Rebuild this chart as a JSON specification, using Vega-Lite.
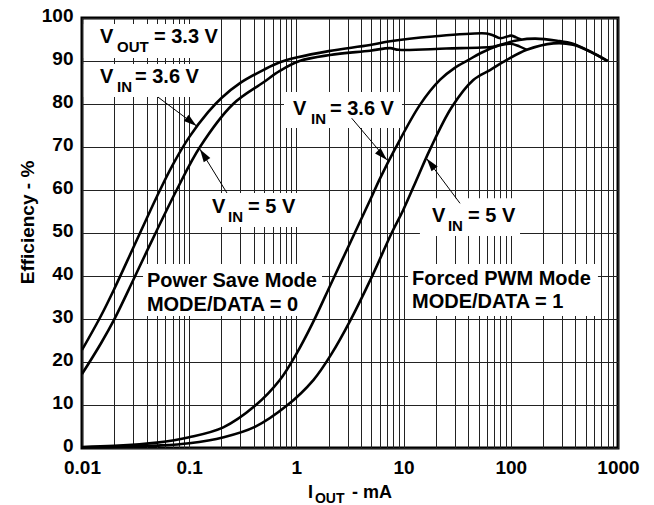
{
  "$schema": "https://vega.github.io/schema/vega-lite/v6.json",
  "width": 536,
  "height": 430,
  "autosize": {"type": "none"},
  "padding": {"left": 82, "top": 18, "right": 36, "bottom": 57},
  "background": "white",
  "config": {
    "view": {"stroke": "black", "strokeWidth": 3},
    "font": "Liberation Sans"
  },
  "datasets": {
    "curves": [
      {"series": "PS 3.6", "x": 0.01, "y": 22.8},
      {"series": "PS 3.6", "x": 0.015, "y": 30.7},
      {"series": "PS 3.6", "x": 0.02, "y": 37.0},
      {"series": "PS 3.6", "x": 0.03, "y": 46.5},
      {"series": "PS 3.6", "x": 0.05, "y": 58.5},
      {"series": "PS 3.6", "x": 0.07, "y": 65.8},
      {"series": "PS 3.6", "x": 0.1, "y": 72.3},
      {"series": "PS 3.6", "x": 0.15, "y": 78.1},
      {"series": "PS 3.6", "x": 0.2, "y": 81.4},
      {"series": "PS 3.6", "x": 0.3, "y": 84.9},
      {"series": "PS 3.6", "x": 0.5, "y": 88.0},
      {"series": "PS 3.6", "x": 0.7, "y": 89.7},
      {"series": "PS 3.6", "x": 1.0, "y": 90.8},
      {"series": "PS 3.6", "x": 2.0, "y": 92.3},
      {"series": "PS 3.6", "x": 4.86, "y": 93.7},
      {"series": "PS 3.6", "x": 7.5, "y": 94.6},
      {"series": "PS 3.6", "x": 18.8, "y": 95.7},
      {"series": "PS 3.6", "x": 59, "y": 96.4},
      {"series": "PS 3.6", "x": 68, "y": 96.0},
      {"series": "PS 3.6", "x": 80, "y": 95.3},
      {"series": "PS 3.6", "x": 100, "y": 95.9},
      {"series": "PS 3.6", "x": 112, "y": 95.5},
      {"series": "PS 3.6", "x": 125, "y": 95.0},
      {"series": "PS 5", "x": 0.01, "y": 17.2},
      {"series": "PS 5", "x": 0.015, "y": 24.3},
      {"series": "PS 5", "x": 0.02, "y": 29.9},
      {"series": "PS 5", "x": 0.03, "y": 39.0},
      {"series": "PS 5", "x": 0.04, "y": 45.6},
      {"series": "PS 5", "x": 0.0764, "y": 60},
      {"series": "PS 5", "x": 0.126, "y": 70},
      {"series": "PS 5", "x": 0.257, "y": 80},
      {"series": "PS 5", "x": 0.49, "y": 85},
      {"series": "PS 5", "x": 0.7, "y": 87.7},
      {"series": "PS 5", "x": 1.07, "y": 90},
      {"series": "PS 5", "x": 2.05, "y": 91.4},
      {"series": "PS 5", "x": 4.86, "y": 92.4},
      {"series": "PS 5", "x": 7.5, "y": 93.0},
      {"series": "PS 5", "x": 9, "y": 92.6},
      {"series": "PS 5", "x": 25, "y": 92.9},
      {"series": "PS 5", "x": 68, "y": 93.3},
      {"series": "PS 5", "x": 80, "y": 93.7},
      {"series": "PS 5", "x": 100, "y": 94.0},
      {"series": "PS 5", "x": 120, "y": 93.4},
      {"series": "PS 5", "x": 141, "y": 92.6},
      {"series": "PWM 3.6", "x": 0.01, "y": 0.25},
      {"series": "PWM 3.6", "x": 0.02, "y": 0.5},
      {"series": "PWM 3.6", "x": 0.05, "y": 1.25},
      {"series": "PWM 3.6", "x": 0.1, "y": 2.5},
      {"series": "PWM 3.6", "x": 0.208, "y": 4.8},
      {"series": "PWM 3.6", "x": 0.411, "y": 9.8},
      {"series": "PWM 3.6", "x": 0.7, "y": 15.8},
      {"series": "PWM 3.6", "x": 1.0, "y": 21.9},
      {"series": "PWM 3.6", "x": 1.42, "y": 29.1},
      {"series": "PWM 3.6", "x": 2.13, "y": 38.5},
      {"series": "PWM 3.6", "x": 3.52, "y": 50.1},
      {"series": "PWM 3.6", "x": 4.86, "y": 57.6},
      {"series": "PWM 3.6", "x": 6.0, "y": 62.6},
      {"series": "PWM 3.6", "x": 8.3, "y": 69.5},
      {"series": "PWM 3.6", "x": 14.2, "y": 79.8},
      {"series": "PWM 3.6", "x": 21.8, "y": 85.6},
      {"series": "PWM 3.6", "x": 30, "y": 88.4},
      {"series": "PWM 3.6", "x": 40, "y": 90.2},
      {"series": "PWM 3.6", "x": 52, "y": 91.8},
      {"series": "PWM 3.6", "x": 79, "y": 93.7},
      {"series": "PWM 3.6", "x": 120, "y": 94.9},
      {"series": "PWM 3.6", "x": 170, "y": 95.2},
      {"series": "PWM 3.6", "x": 270, "y": 94.7},
      {"series": "PWM 3.6", "x": 380, "y": 94.0},
      {"series": "PWM 3.6", "x": 550, "y": 92.2},
      {"series": "PWM 3.6", "x": 800, "y": 90},
      {"series": "PWM 5", "x": 0.01, "y": 0.11},
      {"series": "PWM 5", "x": 0.02, "y": 0.22},
      {"series": "PWM 5", "x": 0.05, "y": 0.55},
      {"series": "PWM 5", "x": 0.1, "y": 1.1},
      {"series": "PWM 5", "x": 0.21, "y": 2.5},
      {"series": "PWM 5", "x": 0.41, "y": 4.9},
      {"series": "PWM 5", "x": 0.81, "y": 9.8},
      {"series": "PWM 5", "x": 1.44, "y": 15.8},
      {"series": "PWM 5", "x": 2.14, "y": 22},
      {"series": "PWM 5", "x": 3.16, "y": 29.5},
      {"series": "PWM 5", "x": 5.05, "y": 39.8},
      {"series": "PWM 5", "x": 7.74, "y": 50},
      {"series": "PWM 5", "x": 9.9, "y": 55.3},
      {"series": "PWM 5", "x": 13.6, "y": 63.1},
      {"series": "PWM 5", "x": 17.6, "y": 69.4},
      {"series": "PWM 5", "x": 28, "y": 79.2},
      {"series": "PWM 5", "x": 44.7, "y": 85.6},
      {"series": "PWM 5", "x": 64, "y": 87.9},
      {"series": "PWM 5", "x": 91, "y": 90.2},
      {"series": "PWM 5", "x": 141, "y": 92.6},
      {"series": "PWM 5", "x": 250, "y": 94.1},
      {"series": "PWM 5", "x": 380, "y": 93.8},
      {"series": "PWM 5", "x": 550, "y": 92.2},
      {"series": "PWM 5", "x": 800, "y": 90}
    ],
    "boxes": [
      {"x": 0.0104, "x2": 0.1856, "y": 98.6, "y2": 90.7},
      {"x": 0.0104, "x2": 0.1496, "y": 89.3, "y2": 81.6},
      {"x": 0.1466, "x2": 1.081, "y": 59.3, "y2": 51.4},
      {"x": 0.766, "x2": 9.66, "y": 82.8, "y2": 74.4},
      {"x": 14.2, "x2": 121.9, "y": 58.1, "y2": 49.3},
      {"x": 0.0371, "x2": 1.733, "y": 42.8, "y2": 30.7},
      {"x": 11.0, "x2": 650, "y": 42.8, "y2": 30.7}
    ],
    "arrows": [
      {"id": "a1", "x": 0.117, "y": 74.9, "x2": 0.0512, "y2": 81.6},
      {"id": "a2", "x": 0.126, "y": 69.5, "x2": 0.225, "y2": 59.3},
      {"id": "a3", "x": 7.0, "y": 67.0, "x2": 3.28, "y2": 76.7},
      {"id": "a4", "x": 16.4, "y": 67.3, "x2": 33.6, "y2": 56.9}
    ],
    "labels": [
      {"role": "main", "text": "V", "x": 0.01472, "y": 94.19},
      {"role": "sub", "text": "OUT", "x": 0.02121, "y": 92.09},
      {"role": "main", "text": "= 3.3 V", "x": 0.04694, "y": 94.19},
      {"role": "main", "text": "V", "x": 0.01472, "y": 84.88},
      {"role": "sub", "text": "IN", "x": 0.02121, "y": 82.79},
      {"role": "main", "text": "= 3.6 V", "x": 0.0312, "y": 84.88},
      {"role": "main", "text": "V", "x": 0.1633, "y": 54.65},
      {"role": "sub", "text": "IN", "x": 0.2301, "y": 52.56},
      {"role": "main", "text": "= 5 V", "x": 0.354, "y": 54.65},
      {"role": "main", "text": "V", "x": 0.929, "y": 77.44},
      {"role": "sub", "text": "IN", "x": 1.368, "y": 75.35},
      {"role": "main", "text": "= 3.6 V", "x": 2.057, "y": 77.44},
      {"role": "main", "text": "V", "x": 18.4, "y": 52.56},
      {"role": "sub", "text": "IN", "x": 25.9, "y": 50.47},
      {"role": "main", "text": "= 5 V", "x": 39.9, "y": 52.56},
      {"role": "main", "text": "Power Save Mode", "x": 0.0403, "y": 37.44},
      {"role": "main", "text": "MODE/DATA = 0", "x": 0.0403, "y": 31.86},
      {"role": "main", "text": "Forced PWM Mode", "x": 11.97, "y": 37.9},
      {"role": "main", "text": "MODE/DATA = 1", "x": 11.97, "y": 32.6},
      {"role": "title", "text": "I", "x": 1.282, "y": -11.63},
      {"role": "titlesub", "text": "OUT", "x": 1.49, "y": -12.9},
      {"role": "title", "text": "- mA", "x": 3.3, "y": -11.63}
    ]
  },
  "encoding": {
    "x": {
      "field": "x",
      "type": "quantitative",
      "title": null,
      "scale": {"type": "log", "domain": [0.01, 1000], "nice": false},
      "axis": {
        "values": [0.01,0.02,0.03,0.04,0.05,0.06,0.07,0.08,0.09,0.1,0.2,0.3,0.4,0.5,0.6,0.7,0.8,0.9,1,2,3,4,5,6,7,8,9,10,20,30,40,50,60,70,80,90,100,200,300,400,500,600,700,800,900,1000],
        "format": "~g",
        "labelExpr": "indexof(['0.01','0.1','1','10','100','1000'], datum.label) >= 0 ? datum.label : ''",
        "grid": true,
        "gridColor": "#222222",
        "gridWidth": 1,
        "gridOpacity": 1,
        "ticks": false,
        "domain": false,
        "labelFont": "Liberation Sans",
        "labelFontWeight": "bold",
        "labelFontSize": 19,
        "labelColor": "black",
        "labelPadding": 10,
        "labelFlush": false,
        "labelOverlap": false,
        "labelBound": false
      }
    },
    "y": {
      "field": "y",
      "type": "quantitative",
      "scale": {"domain": [0, 100], "nice": false, "zero": false},
      "axis": {
        "values": [0,10,20,30,40,50,60,70,80,90,100],
        "title": "Efficiency - %",
        "titleFont": "Liberation Sans",
        "titleFontWeight": "bold",
        "titleFontSize": 19,
        "titleColor": "black",
        "titleAngle": 270,
        "titleX": -45,
        "titleY": 204,
        "titleAlign": "center",
        "titleBaseline": "bottom",
        "grid": true,
        "gridColor": "#222222",
        "gridWidth": 1,
        "gridOpacity": 1,
        "ticks": false,
        "domain": false,
        "labelFont": "Liberation Sans",
        "labelFontWeight": "bold",
        "labelFontSize": 19,
        "labelColor": "black",
        "labelPadding": 9,
        "labelOffset": -3,
        "labelFlush": false,
        "labelOverlap": false,
        "labelBound": false
      }
    }
  },
  "layer": [
    {
      "data": {"name": "boxes"},
      "mark": {"type": "rect", "fill": "white", "strokeWidth": 0},
      "encoding": {"x2": {"field": "x2"}, "y2": {"field": "y2"}}
    },
    {
      "data": {"name": "curves"},
      "mark": {"type": "line", "color": "black", "strokeWidth": 2.6, "interpolate": "catmull-rom"},
      "encoding": {"detail": {"field": "series", "type": "nominal"}}
    },
    {
      "data": {"name": "arrows"},
      "mark": {"type": "rule", "color": "black", "strokeWidth": 1},
      "encoding": {"x2": {"field": "x2"}, "y2": {"field": "y2"}}
    },
    {
      "data": {"name": "arrows"},
      "transform": [{"filter": "datum.id == 'a1'"}],
      "mark": {"type": "point", "shape": "M0,0 L0.3,1 L-0.3,1 Z", "size": 676, "filled": true, "color": "black", "opacity": 1, "angle": 128}
    },
    {
      "data": {"name": "arrows"},
      "transform": [{"filter": "datum.id == 'a2'"}],
      "mark": {"type": "point", "shape": "M0,0 L0.3,1 L-0.3,1 Z", "size": 676, "filled": true, "color": "black", "opacity": 1, "angle": 327}
    },
    {
      "data": {"name": "arrows"},
      "transform": [{"filter": "datum.id == 'a3'"}],
      "mark": {"type": "point", "shape": "M0,0 L0.3,1 L-0.3,1 Z", "size": 676, "filled": true, "color": "black", "opacity": 1, "angle": 135}
    },
    {
      "data": {"name": "arrows"},
      "transform": [{"filter": "datum.id == 'a4'"}],
      "mark": {"type": "point", "shape": "M0,0 L0.3,1 L-0.3,1 Z", "size": 676, "filled": true, "color": "black", "opacity": 1, "angle": 322}
    },
    {
      "data": {"name": "labels"},
      "transform": [{"filter": "datum.role == 'main'"}],
      "mark": {"type": "text", "font": "Liberation Sans", "fontWeight": "bold", "fontSize": 20, "align": "left", "baseline": "alphabetic", "color": "black"},
      "encoding": {"text": {"field": "text"}}
    },
    {
      "data": {"name": "labels"},
      "transform": [{"filter": "datum.role == 'sub'"}],
      "mark": {"type": "text", "font": "Liberation Sans", "fontWeight": "bold", "fontSize": 15, "align": "left", "baseline": "alphabetic", "color": "black"},
      "encoding": {"text": {"field": "text"}}
    },
    {
      "data": {"name": "labels"},
      "transform": [{"filter": "datum.role == 'title'"}],
      "mark": {"type": "text", "font": "Liberation Sans", "fontWeight": "bold", "fontSize": 18, "align": "left", "baseline": "alphabetic", "color": "black"},
      "encoding": {"text": {"field": "text"}}
    },
    {
      "data": {"name": "labels"},
      "transform": [{"filter": "datum.role == 'titlesub'"}],
      "mark": {"type": "text", "font": "Liberation Sans", "fontWeight": "bold", "fontSize": 14, "align": "left", "baseline": "alphabetic", "color": "black"},
      "encoding": {"text": {"field": "text"}}
    }
  ]
}
